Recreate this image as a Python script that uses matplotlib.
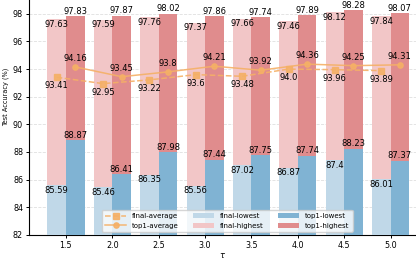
import matplotlib
matplotlib.use('Agg')
import matplotlib.pyplot as plt
import numpy as np

# 数据
taus = ['1.5', '2.0', '2.5', '3.0', '3.5', '4.0', '4.5', '5.0']
final_avg = [93.41, 92.95, 93.22, 93.6, 93.48, 94.0, 93.96, 93.89]
top1_avg = [94.16, 93.45, 93.8, 94.21, 93.92, 94.36, 94.25, 94.31]
final_high = [97.63, 97.59, 97.76, 97.37, 97.66, 97.46, 98.12, 97.84]
top1_high = [97.83, 97.87, 98.02, 97.86, 97.74, 97.89, 98.28, 98.07]
final_low = [85.59, 85.46, 86.35, 85.56, 87.02, 86.87, 87.4, 86.01]
top1_low = [88.87, 86.41, 87.98, 87.44, 87.75, 87.74, 88.23, 87.37]

base = 82
x = np.arange(len(taus))
width = 0.4

fig = plt.figure(figsize=(4.16, 2.6), dpi=100)
# 顶部被裁掉一截 (ylim 到 102)
ax = fig.add_axes([0.0705, 0.097, 0.9295, 1.062])

c_fl, c_tl = '#c0d8e8', '#80b3d3'
c_fh, c_th = '#f2c6c7', '#e08c8d'
c_line = '#f5b066'

# highest 底层, lowest 覆盖
ax.bar(x - width/2, np.array(final_high) - base, width, bottom=base, color=c_fh, label='final-highest', zorder=2)
ax.bar(x + width/2, np.array(top1_high) - base, width, bottom=base, color=c_th, label='top1-highest', zorder=2)
ax.bar(x - width/2, np.array(final_low) - base, width, bottom=base, color=c_fl, label='final-lowest', zorder=3)
ax.bar(x + width/2, np.array(top1_low) - base, width, bottom=base, color=c_tl, label='top1-lowest', zorder=3)

ax.plot(x - width/2, final_avg, '--', marker='s', color=c_line, lw=1.1, ms=3.8, alpha=0.9,
        label='final-average', zorder=4)
ax.plot(x + width/2, top1_avg, '-', marker='o', color=c_line, lw=1.1, ms=3.8, alpha=0.9,
        label='top1-average', zorder=4)

fs = 6
for i in range(len(x)):
    xf, xt = x[i] - width/2, x[i] + width/2
    ax.text(xf, final_high[i] - 0.05, f'{final_high[i]}', ha='center', va='top', fontsize=fs, zorder=5)
    ax.text(xt, top1_high[i] + 0.02, f'{top1_high[i]}', ha='center', va='bottom', fontsize=fs, zorder=5)
    ax.text(xf, final_low[i] - 0.05, f'{final_low[i]}', ha='center', va='top', fontsize=fs, zorder=5)
    ax.text(xt, top1_low[i] + 0.02, f'{top1_low[i]}', ha='center', va='bottom', fontsize=fs, zorder=5)
    ax.text(xf, final_avg[i] - 0.3, f'{final_avg[i]}', ha='center', va='top', fontsize=fs, zorder=5)
    ax.text(xt, top1_avg[i] + 0.3, f'{top1_avg[i]}', ha='center', va='bottom', fontsize=fs, zorder=5)

ax.set_ylim(82, 102)
ax.set_xlim(-0.79, 7.55)
ax.set_yticks(np.arange(82, 99, 2))
ax.set_xticks(x)
ax.set_xticklabels(taus)
ax.tick_params(labelsize=5.8, length=2.5, width=0.7, pad=2)
ax.set_xlabel(r'$\tau$', fontsize=6, labelpad=1)
ax.set_ylabel('Test Accuracy (%)', fontsize=4.7, labelpad=2.5)
ax.grid(axis='y', linestyle='--', alpha=0.4, lw=0.6)
ax.set_axisbelow(True)
ax.spines['top'].set_visible(False)
ax.spines['right'].set_visible(False)
for s in ['left', 'bottom']:
    ax.spines[s].set_linewidth(0.8)

handles, labels = ax.get_legend_handles_labels()
order = ['final-average', 'top1-average', 'final-lowest', 'final-highest', 'top1-lowest', 'top1-highest']
hmap = dict(zip(labels, handles))
ax.legend([hmap[k] for k in order], order, ncol=3, fontsize=5, loc='lower left',
          bbox_to_anchor=(0.188, 0.0108), borderaxespad=0, handlelength=3,
          handletextpad=0.85, columnspacing=2.1, borderpad=0.45, labelspacing=0.5)

fig.savefig('out.png', dpi=100)
